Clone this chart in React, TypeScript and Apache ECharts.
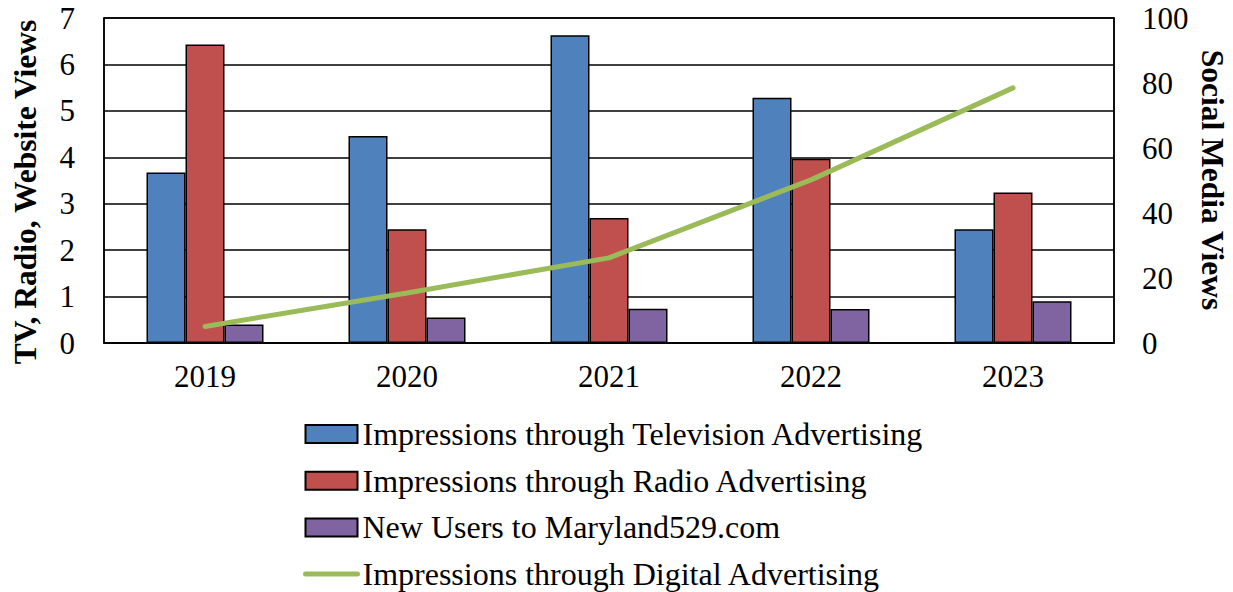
import React, { useEffect, useRef } from "react";
import * as echarts from "echarts";

const categories = ["2019", "2020", "2021", "2022", "2023"];
const tvImpressions = [3.67, 4.46, 6.63, 5.28, 2.45];
const radioImpressions = [6.43, 2.45, 2.69, 3.97, 3.24];
const newUsers = [0.4, 0.55, 0.74, 0.73, 0.9];
const digitalImpressions = [5.1, 15.4, 26.2, 50.2, 78.5];

const seriesNames = [
  "Impressions through Television Advertising",
  "Impressions through Radio Advertising",
  "New Users to Maryland529.com",
  "Impressions through Digital Advertising",
];
const leftTitle = "TV, Radio, Website Views";
const rightTitle = "Social Media Views";

const FONT = "'Liberation Serif', 'Times New Roman', serif";

export default function App() {
  const ref = useRef<HTMLDivElement>(null);
  useEffect(() => {
    if (!ref.current) return;
    const chart = echarts.init(ref.current, null, { renderer: "svg" });
    const barBase = {
      type: "bar" as const,
      barWidth: 39,
      barGap: "0%",
      yAxisIndex: 0,
    };
    chart.setOption({
      animation: false,
      backgroundColor: "#fff",
      textStyle: { fontFamily: FONT, color: "#000" },
      grid: {
        left: 104,
        right: 119,
        top: 18,
        bottom: 249,
        show: true,
        borderColor: "#000",
        borderWidth: 1.5,
        containLabel: false,
      },
      legend: {
        orient: "vertical",
        left: 298,
        top: 413,
        height: 178,
        width: 700,
        itemWidth: 52,
        itemHeight: 18,
        itemGap: 14.7,
        data: [
          { name: seriesNames[0], icon: "rect" },
          { name: seriesNames[1], icon: "rect" },
          { name: seriesNames[2], icon: "rect" },
          { name: seriesNames[3], itemStyle: { opacity: 0 }, lineStyle: { width: 5 } },
        ],
        textStyle: { fontFamily: FONT, fontSize: 32, color: "#000", lineHeight: 32 },
      },
      xAxis: {
        type: "category",
        data: categories,
        axisTick: { show: false },
        axisLine: { lineStyle: { color: "#000", width: 1.5 } },
        axisLabel: { fontFamily: FONT, fontSize: 31, color: "#000", margin: 18 },
      },
      yAxis: [
        {
          type: "value",
          min: 0,
          max: 7,
          interval: 1,
          axisLine: { show: true, lineStyle: { color: "#000", width: 1.5 } },
          axisTick: { show: false },
          splitLine: { lineStyle: { color: "#000", width: 1.5 } },
          axisLabel: { fontFamily: FONT, fontSize: 31, color: "#000", margin: 29 },
        },
        {
          type: "value",
          min: 0,
          max: 100,
          interval: 20,
          position: "right",
          axisLine: { show: true, lineStyle: { color: "#000", width: 1.5 } },
          axisTick: { show: false },
          splitLine: { show: false },
          axisLabel: { fontFamily: FONT, fontSize: 31, color: "#000", margin: 28 },
        },
      ],
      graphic: [
        {
          type: "text",
          x: 25,
          y: 192,
          rotation: Math.PI / 2,
          style: {
            text: leftTitle,
            fontFamily: FONT,
            fontSize: 31.5,
            fontWeight: "bold",
            fill: "#000",
            textAlign: "center",
            textVerticalAlign: "middle",
          },
        },
        {
          type: "text",
          x: 1212,
          y: 180,
          rotation: -Math.PI / 2,
          style: {
            text: rightTitle,
            fontFamily: FONT,
            fontSize: 31.5,
            fontWeight: "bold",
            fill: "#000",
            textAlign: "center",
            textVerticalAlign: "middle",
          },
        },
      ],
      series: [
        {
          ...barBase,
          name: seriesNames[0],
          data: tvImpressions,
          itemStyle: { color: "#4F81BD", borderColor: "#000", borderWidth: 1.5 },
        },
        {
          ...barBase,
          name: seriesNames[1],
          data: radioImpressions,
          itemStyle: { color: "#C0504D", borderColor: "#000", borderWidth: 1.5 },
        },
        {
          ...barBase,
          name: seriesNames[2],
          data: newUsers,
          itemStyle: { color: "#8064A2", borderColor: "#000", borderWidth: 1.5 },
        },
        {
          type: "line",
          name: seriesNames[3],
          yAxisIndex: 1,
          data: digitalImpressions,
          symbol: "none",
          lineStyle: { color: "#9BBB59", width: 5, cap: "round" },
          itemStyle: { color: "#9BBB59" },
          z: 5,
        },
      ],
    });
    return () => chart.dispose();
  }, []);
  return (
    <div
      ref={ref}
      style={{ position: "fixed", left: 0, top: 0, width: 1233, height: 592, background: "#fff" }}
    />
  );
}
